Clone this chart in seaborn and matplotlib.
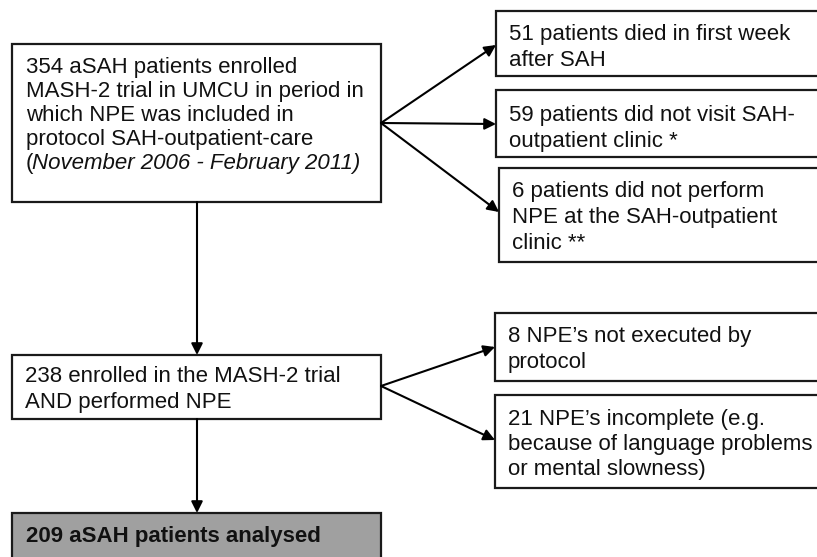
import matplotlib.pyplot as plt
from matplotlib.patches import Rectangle
import seaborn as sns

sns.set_style("white")
plt.rcParams['font.family'] = ['Liberation Sans', 'DejaVu Sans']

# textes des cases (ligne par ligne)
main_lines = ["354 aSAH patients enrolled",
              "MASH-2 trial in UMCU in period in",
              "which NPE was included in",
              "protocol SAH-outpatient-care"]
main_period = "November 2006 - February 2011)"
excl1_lines = [["51 patients died in first week", "after SAH"],
               ["59 patients did not visit SAH-", "outpatient clinic *"],
               ["6 patients did not perform", "NPE at the SAH-outpatient", "clinic **"]]
mid_lines = ["238 enrolled in the MASH-2 trial", "AND performed NPE"]
excl2_lines = [["8 NPE\u2019s not executed by", "protocol"],
               ["21 NPE\u2019s incomplete (e.g.", "because of language problems", "or mental slowness)"]]
final_text = "209 aSAH patients analysed"

# geometrie (pixels)
main_box = (12, 44, 381, 202)
excl1_boxes = [(496, 11, 830, 76), (496, 90, 830, 157), (499, 168, 830, 262)]
mid_box = (12, 355, 381, 419)
excl2_boxes = [(495, 313, 830, 381), (495, 395, 830, 488)]
final_box = (12, 513, 381, 570)

fig = plt.figure(figsize=(8.17, 5.57), dpi=100)
ax = fig.add_axes([0, 0, 1, 1])
ax.set_xlim(0, 817)
ax.set_ylim(557, 0)
ax.axis("off")

FS = 16
EDGE = "#1a1a1a"


def box(b, fc="white"):
    x0, y0, x1, y1 = b
    ax.add_patch(Rectangle((x0, y0), x1 - x0, y1 - y0, fc=fc, ec=EDGE, lw=1.6, zorder=2))


def lines(x, y0, txt, step=25, **kw):
    for i, t in enumerate(txt):
        ax.text(x, y0 + i * step, t, fontsize=FS, va="baseline", ha="left", color="#111111", zorder=3, **kw)


def arrow(p0, p1):
    ax.annotate("", xy=p1, xytext=p0,
                arrowprops=dict(arrowstyle="-|>", color="black", lw=1.5, mutation_scale=17,
                                shrinkA=0, shrinkB=0), zorder=4)


# case principale
box(main_box)
lines(26, 73, main_lines, step=24)
ax.text(26, 169, "(", fontsize=FS, va="baseline", color="#111111", zorder=3)
ax.text(32, 169, main_period, fontsize=FS, va="baseline", style="italic", color="#111111", zorder=3)

# exclusions 1
for b, txt in zip(excl1_boxes, excl1_lines):
    box(b)
base1 = [40, 121, 197]
for b, y, txt in zip(excl1_boxes, base1, excl1_lines):
    lines(b[0] + 13, y, txt, step=26)
for tgt in [(496, 45), (496, 124), (499, 212)]:
    arrow((381, 123), tgt)

# case intermediaire
box(mid_box)
lines(25, 382, mid_lines, step=26)
arrow((197, 202), (197, 355))

# exclusions 2
for b in excl2_boxes:
    box(b)
lines(508, 342, excl2_lines[0], step=26)
lines(508, 425, excl2_lines[1], step=25)
for tgt in [(495, 347), (495, 440)]:
    arrow((381, 386), tgt)

# case finale
box(final_box, fc="#a0a0a0")
ax.text(26, 542, final_text, fontsize=FS, fontweight="bold", va="baseline", color="#111111", zorder=3)
arrow((197, 419), (197, 513))

fig.savefig("out.png", dpi=100)
